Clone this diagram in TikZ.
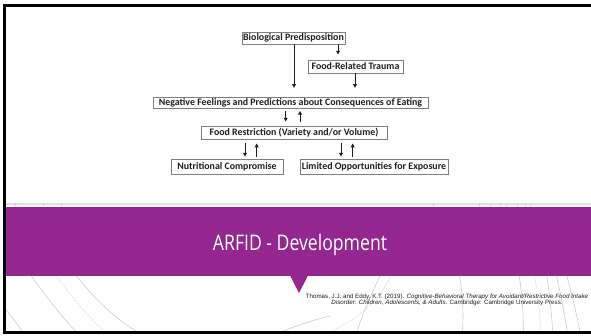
\documentclass[tikz,border=0pt]{standalone}
\usepackage{graphicx}
\usepackage{fontspec}
\setmainfont{Carlito}
\newfontfamily\titlefont{Open Sans}
\newfontfamily\citefont{Liberation Sans}
\usetikzlibrary{arrows.meta}
\definecolor{bandpurple}{RGB}{147,39,143}
\definecolor{boxgray}{RGB}{128,128,128}
\definecolor{inkdark}{RGB}{30,30,30}
\definecolor{arcgray}{RGB}{204,204,204}
\definecolor{rulegray}{RGB}{222,222,222}

\begin{document}
\begin{tikzpicture}[x=1pt,y=-1pt,
  stagebox/.style={draw=boxgray, line width=0.9pt, fill=white, inner sep=0pt,
    font=\bfseries\fontsize{9.9}{11}\selectfont, text=inkdark, align=center},
  flow/.style={draw=inkdark, line width=0.9pt, -{Triangle[width=3.8pt,length=3.8pt]}},
  deco/.style={draw=arcgray, line width=0.6pt},
  decodot/.style={deco, dash pattern=on 0.8pt off 1.2pt}]
\useasboundingbox (0,0) rectangle (591,335);
\fill[white] (0,0) rectangle (591,335);

% decorative arcs behind the lower part of the slide
\begin{scope}
  \clip (6,276) rectangle (591,330.8);
  \draw[deco] (-5,296) .. controls (8,312) and (18,325) .. (30,342);
  \draw[deco] (27,270) .. controls (45,295) and (60,315) .. (80,336);
  \draw[decodot] (52,270) .. controls (70,295) and (88,318) .. (112,338);
  \draw[deco] (72,270) .. controls (95,300) and (115,320) .. (148,338);
  \draw[deco] (262,340) .. controls (285,330) and (305,322) .. (330,316);
  \draw[decodot] (318,337) .. controls (350,325) and (378,305) .. (393,272);
  \draw[deco] (355,338) .. controls (362,315) and (372,292) .. (383,270);
  \draw[deco] (458,270) .. controls (463,290) and (464,315) .. (462,338);
  \draw[deco] (518,270) .. controls (522,290) and (524,315) .. (523,338);
  \draw[decodot] (533,270) .. controls (538,290) and (540,315) .. (541,338);
  \draw[deco] (546,270) .. controls (549,290) and (552,315) .. (553,338);
  \draw[deco] (555,270) .. controls (560,290) and (565,315) .. (568,338);
  \draw[deco] (565,270) .. controls (571,290) and (577,315) .. (581,338);
\end{scope}

% thin rule above the title band, with the arc ends showing through
\fill[rulegray] (6,202.8) rectangle (591,204.6);
\foreach \tx in {15,43,61,433,479,490,500,506,517,525,530}
  \draw[arcgray, line width=0.5pt] (\tx,202.8) -- (\tx+1,207);

% title band and its pointer
\fill[bandpurple] (6,207) rectangle (591,276);
\fill[bandpurple] (290,275.5) -- (308,275.5) -- (299,293) -- cycle;

% slide frame
\fill[black] (3,4) rectangle (6,334);
\fill[black] (3,4) rectangle (591,6.7);
\fill[black] (3,330.8) rectangle (591,334);

\node[anchor=base, text=white, inner sep=0pt,
  font=\titlefont\fontsize{21.5}{24}\selectfont] (title) at (300,250)
  {\scalebox{0.82}[1]{ARFID - Development}};

\node[align=center, inner sep=0pt, text=inkdark,
  font=\citefont\fontsize{6.2}{6.5}\selectfont] (cite) at (447,300)
  {Thomas, J.J. and Eddy, K.T. (2019). \textit{Cognitive-Behavioral Therapy for Avoidant/Restrictive Food Intake}\\
   \textit{Disorder: Children, Adolescents, \& Adults}. Cambridge: Cambridge University Press.};

% development model
\node[stagebox, minimum width=103pt, minimum height=12pt] (bio) at (293.5,38) {Biological Predisposition};
\node[stagebox, minimum width=95pt, minimum height=13pt] (trauma) at (355.5,66.5) {Food-Related Trauma};
\node[stagebox, minimum width=275pt, minimum height=11.5pt] (neg) at (290.5,102.7) {Negative Feelings and Predictions about Consequences of Eating};
\node[stagebox, minimum width=186pt, minimum height=13pt] (fr) at (294,132.5) {Food Restriction (Variety and/or Volume)};
\node[stagebox, minimum width=112pt, minimum height=15pt] (nut) at (227,166.5) {Nutritional Compromise};
\node[stagebox, minimum width=148pt, minimum height=15pt] (lim) at (374,166.5) {Limited Opportunities for Exposure};

\draw[flow] ([xshift=0.5pt]bio.south) -- ([xshift=3.5pt,yshift=8.6pt]neg.north);
\draw[flow] ([xshift=44.5pt]bio.south) -- ([xshift=-17.5pt,yshift=5pt]trauma.north);
\draw[flow] ([xshift=-0.5pt]trauma.south) -- ([xshift=64.5pt,yshift=8.6pt]neg.north);

\draw[flow] ([xshift=-4.8pt,yshift=-2pt]neg.south) -- ([xshift=-8.3pt,yshift=4pt]fr.north);
\draw[flow] ([xshift=6pt,yshift=4pt]fr.north) -- ([xshift=9.5pt,yshift=-2pt]neg.south);

\draw[flow] ([xshift=-49pt,yshift=-4pt]fr.south) -- ([xshift=18pt,yshift=2pt]nut.north);
\draw[flow] ([xshift=29.7pt,yshift=2pt]nut.north) -- ([xshift=-37.3pt,yshift=-4pt]fr.south);

\draw[flow] ([xshift=47pt,yshift=-4pt]fr.south) -- ([xshift=-33pt,yshift=2pt]lim.north);
\draw[flow] ([xshift=-21.3pt,yshift=2pt]lim.north) -- ([xshift=58.7pt,yshift=-4pt]fr.south);
\end{tikzpicture}
\end{document}
